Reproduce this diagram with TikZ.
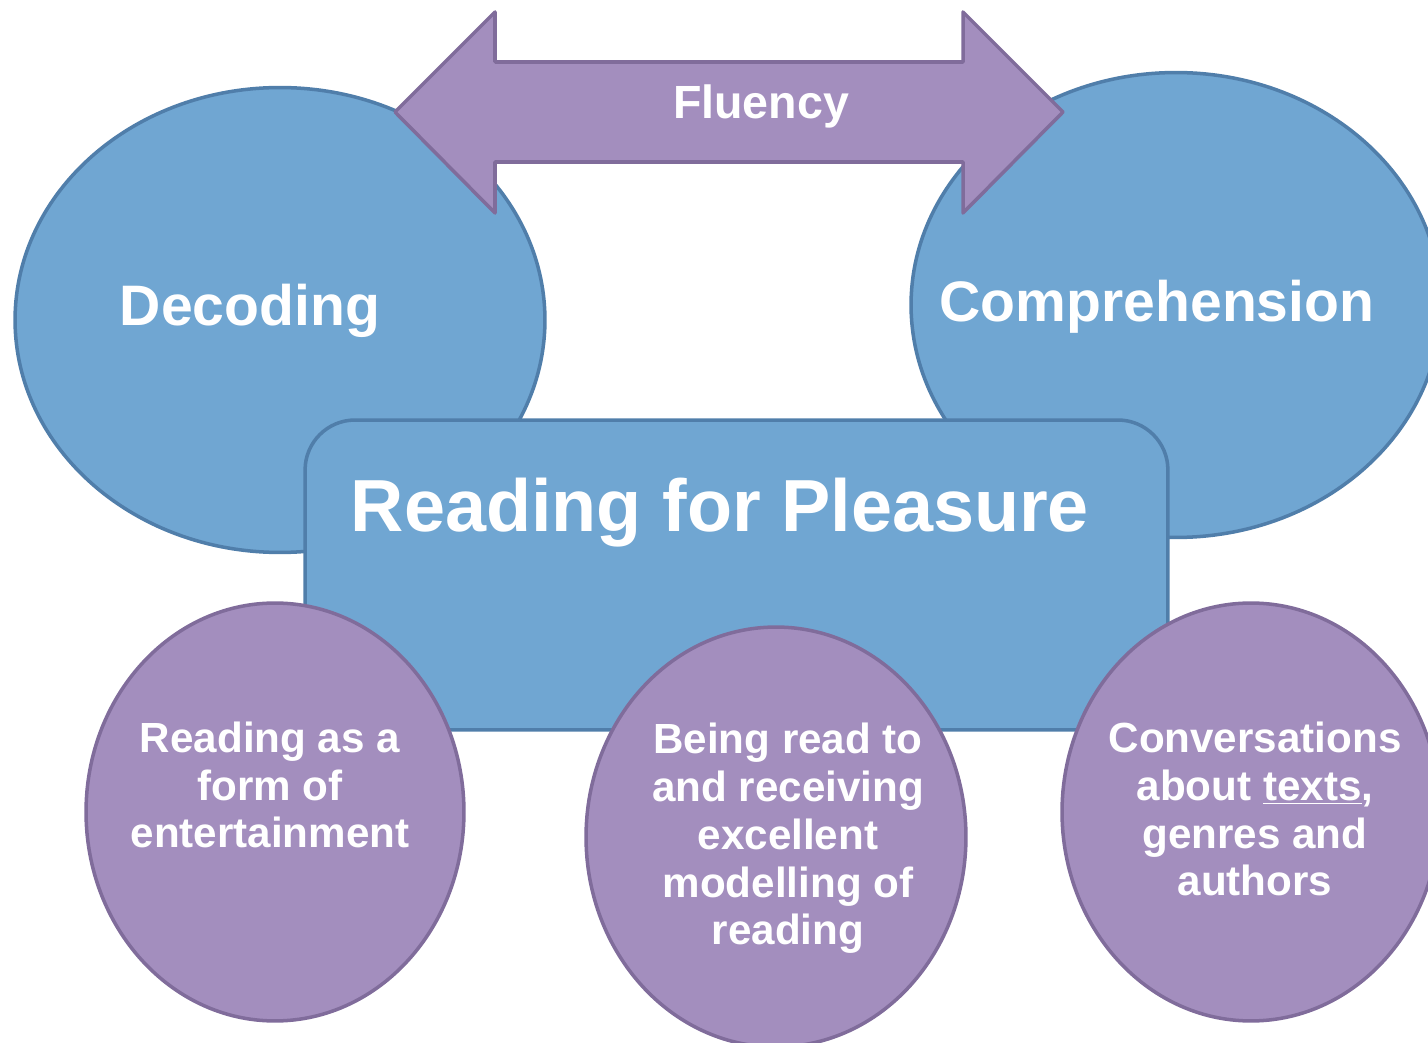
\documentclass[tikz,border=0pt]{standalone}
\usepackage{fontspec}
\setmainfont{Liberation Sans}
\usepackage{tikz}
\usetikzlibrary{shapes.geometric}

\definecolor{blobblue}{RGB}{112,166,210}
\definecolor{edgeblue}{RGB}{80,126,170}
\definecolor{blobpurple}{RGB}{163,142,190}
\definecolor{edgepurple}{RGB}{128,108,155}

\begin{document}
\begin{tikzpicture}[x=0.02cm,y=-0.02cm,line width=2pt,
    bigoval/.style={ellipse,draw=edgeblue,fill=blobblue,inner sep=0pt,
                    minimum width=10.6cm,minimum height=9.3cm},
    smalloval/.style={ellipse,draw=edgepurple,fill=blobpurple,inner sep=0pt,
                      minimum width=7.56cm,minimum height=8.36cm},
    bigtext/.style={text=white,font=\bfseries\fontsize{32.5}{36}\selectfont,anchor=base},
    smalltext/.style={text=white,font=\bfseries\fontsize{24}{27.2}\selectfont,
                      align=center,anchor=base,inner sep=0pt}]
  \path[use as bounding box,clip] (0,0) rectangle (1428,1043);
  % the two skills on top
  \node[bigoval] (decoding) at (280,320) {};
  \node[bigoval] (comprehension) at (1176,305) {};
  \node[bigtext] (decodinglabel) at (250,326) {Decoding};
  \node[bigtext] (comprehensionlabel) at (1157,322) {Comprehension};
  % fluency links them
  \draw[draw=edgepurple,fill=blobpurple,line join=round]
    (395,112) -- (495,12) -- (495,62) -- (963,62) -- (963,12) -- (1063,112)
    -- (963,213) -- (963,162) -- (495,162) -- (495,213) -- cycle;
  \node[text=white,font=\bfseries\fontsize{26.5}{30}\selectfont,anchor=base]
       (fluency) at (761,119) {Fluency};
  % centre panel
  \node[rectangle,rounded corners=1cm,draw=edgeblue,fill=blobblue,
        minimum width=17.26cm,minimum height=6.2cm] (pleasure) at (736.5,575) {};
  \node[text=white,font=\bfseries\fontsize{42}{46}\selectfont,anchor=base]
       (pleasurelabel) at (720,532) {Reading for Pleasure};
  % what feeds reading for pleasure (base = last line)
  \node[smalloval] (entertain) at (275,812) {};
  \node[smalloval,minimum width=7.6cm,minimum height=8.4cm] (readto) at (776,837) {};
  \node[smalloval] (talk) at (1251,812) {};
  \node[smalltext] (entertainlabel) at (270,848)
       {Reading as a\\form of\\entertainment};
  \node[smalltext] (readtolabel) at (788,945)
       {Being read to\\and receiving\\excellent\\modelling of\\reading};
  \node[smalltext] (talklabel) at (1255,896)
       {Conversations\\about \underline{texts},\\genres and\\authors};
\end{tikzpicture}
\end{document}
